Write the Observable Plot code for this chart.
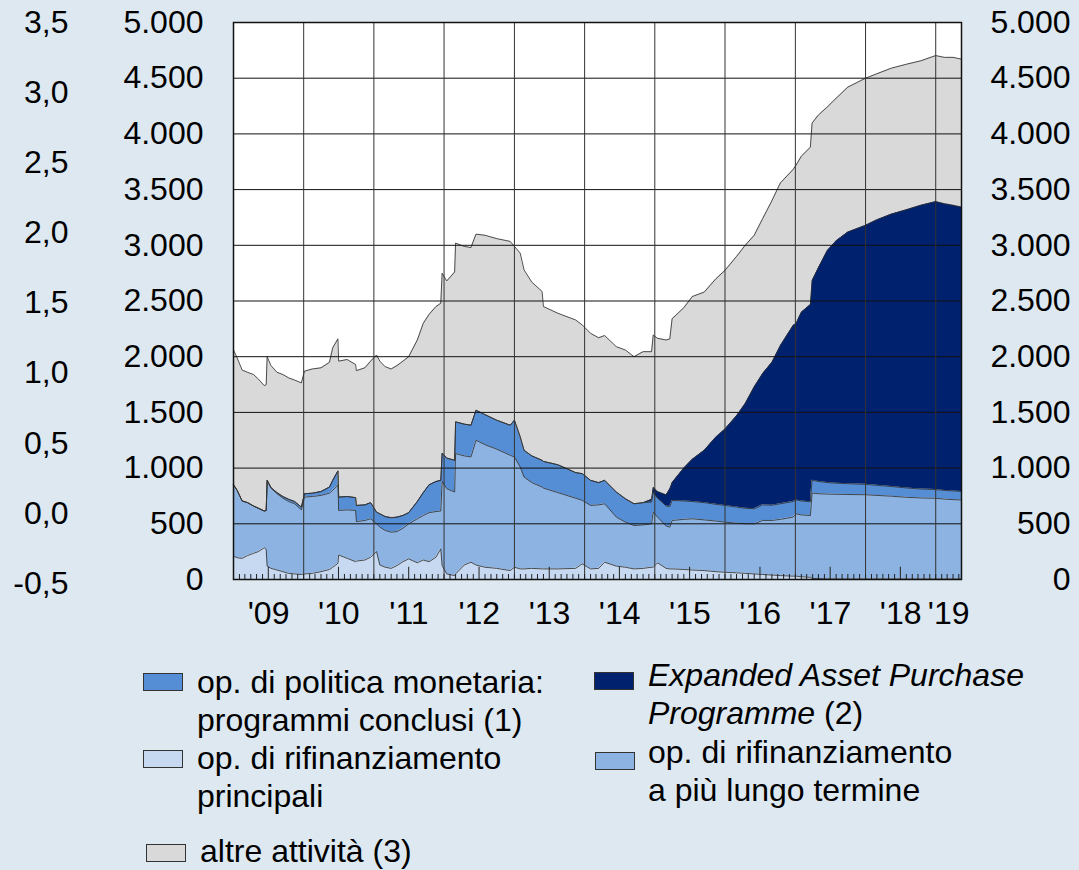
<!DOCTYPE html>
<html>
<head>
<meta charset="utf-8">
<script src="https://cdn.jsdelivr.net/npm/d3@7"></script>
<script src="https://cdn.jsdelivr.net/npm/@observablehq/plot@0.6"></script>
<style>
  html, body { margin: 0; padding: 0; background: #dde8f1; }
  #wrap { position: relative; width: 1079px; height: 870px; overflow: hidden; background: #dde8f1;
          font-family: "Liberation Sans", Arial, Helvetica, sans-serif; color: #000; }
  #chart { position: absolute; left: 0; top: 0; }
  .sw { position: absolute; width: 38px; height: 16px; border: 1px solid #333; box-sizing: content-box; }
  .lg { position: absolute; font-size: 32px; line-height: 38px; white-space: nowrap; }
</style>
</head>
<body>
<div id="wrap">
  <div id="chart"></div>
</div>
<script>
// ---- data (billions of euro) ----
const dates = [
  "2009-01-01","2009-01-20","2009-02-15","2009-03-15","2009-04-15","2009-05-10","2009-06-10","2009-06-20","2009-06-25",
  "2009-07-15","2009-08-15","2009-09-15","2009-10-15","2009-11-15","2009-12-20",
  "2010-01-05","2010-02-15","2010-04-01","2010-05-15","2010-06-01","2010-06-28","2010-07-02","2010-08-15","2010-09-28",
  "2010-10-02","2010-11-15","2010-12-15",
  "2011-01-15","2011-02-01","2011-03-01","2011-04-01","2011-05-01","2011-06-01","2011-07-01","2011-08-15","2011-09-15",
  "2011-10-15","2011-11-20","2011-12-15","2011-12-22",
  "2012-01-15","2012-02-25","2012-03-01","2012-04-15","2012-05-20","2012-06-15","2012-08-01","2012-10-01","2012-12-10",
  "2013-01-01","2013-01-31","2013-02-20","2013-04-01","2013-05-25","2013-06-01","2013-08-15","2013-11-15","2013-12-20",
  "2014-02-01","2014-03-15","2014-04-15","2014-06-15","2014-08-01","2014-09-15","2014-11-01","2014-12-15","2014-12-24",
  "2015-01-15","2015-03-01","2015-03-20","2015-04-01","2015-06-01","2015-07-15","2015-09-15","2015-11-15",
  "2016-01-01","2016-03-01","2016-04-15","2016-06-01","2016-07-15","2016-09-01","2016-10-15","2016-12-20",
  "2017-01-05","2017-02-01","2017-03-20","2017-03-29","2017-05-01","2017-06-15","2017-08-01","2017-10-01",
  "2018-01-01","2018-03-01","2018-05-15","2018-08-01","2018-10-15",
  "2019-01-01","2019-02-15","2019-04-01","2019-05-15"
];
// op. di rifinanziamento principali
const mro = [
  210,195,190,215,235,250,285,270,120,
  100,85,70,55,50,45,
  50,55,70,90,110,145,220,190,160,
  165,175,200,
  250,130,110,100,125,160,185,150,175,
  160,200,275,125,
  50,35,50,130,155,130,110,100,80,
  110,95,95,100,95,95,95,100,140,
  95,100,155,120,110,95,100,110,110,
  150,100,95,95,90,85,80,70,
  65,60,55,50,45,40,35,30,
  30,25,20,10,8,6,5,5,
  5,5,5,5,5,
  5,5,5,5
];
// op. di rifinanziamento a più lungo termine
const ltro = [
  640,605,515,475,425,390,330,350,770,
  720,685,660,645,630,580,
  690,690,685,685,690,705,400,435,460,
  355,355,345,
  250,340,330,325,305,300,315,395,400,
  440,410,340,755,
  765,750,1080,980,945,1120,1100,1070,1035,
  990,915,825,770,735,725,685,630,570,
  570,570,525,440,405,390,390,390,495,
  410,380,375,435,450,460,455,455,
  450,445,445,450,485,490,505,530,
  560,555,554,766,762,761,760,758,
  756,750,743,733,727,
  724,717,712,709
];
// op. di politica monetaria: programmi conclusi
const completed = [
  0,0,0,0,0,0,0,0,0,
  5,10,15,20,20,25,
  30,30,35,55,90,125,120,120,115,
  145,140,145,
  105,120,125,130,130,115,100,155,205,
  250,270,275,255,
  275,285,285,285,285,270,270,260,270,
  330,270,240,240,240,240,250,230,240,
  225,200,210,225,210,195,200,195,175,
  170,180,185,180,165,155,155,150,
  150,145,140,135,140,137,140,140,
  124,125,124,115,110,103,100,97,
  93,90,87,84,80,
  78,78,78,77
];
// Expanded Asset Purchase Programme
const app = [
  0,0,0,0,0,0,0,0,0,
  0,0,0,0,0,0,
  0,0,0,0,0,0,0,0,0,
  0,0,0,
  0,0,0,0,0,0,0,0,0,
  0,0,0,0,
  0,0,0,0,0,0,0,0,0,
  0,0,0,0,0,0,0,0,0,
  0,0,0,0,0,0,0,25,50,
  60,100,160,160,295,380,470,605,
  685,820,940,1095,1180,1283,1420,1580,
  1586,1695,1770,1794,1920,2080,2175,2260,
  2326,2385,2445,2498,2548,
  2586,2574,2565,2552
];
// altre attività
const other = [
  1210,1190,1175,1170,1180,1160,1125,1130,1110,
  1095,1080,1095,1090,1090,1115,
  1100,1115,1110,1120,1190,1185,1220,1230,1195,
  1210,1230,1270,
  1410,1370,1345,1335,1360,1385,1400,1450,1520,
  1530,1570,1590,1615,
  1590,1690,1605,1595,1595,1580,1610,1630,1650,
  1560,1650,1620,1560,1515,1390,1360,1370,1335,
  1320,1300,1300,1305,1335,1320,1355,1325,1365,
  1375,1390,1345,1470,1440,1460,1420,1420,
  1425,1430,1420,1360,1390,1450,1460,1400,
  1420,1400,1412,1412,1370,1290,1280,1300,
  1320,1310,1310,1305,1296,
  1310,1313,1327,1328
];

const seriesNames = ["mro", "ltro", "completed", "app", "other"];
const seriesColors = ["#c6d9f1", "#8db3e2", "#558ed5", "#00216e", "#d9d9d9"];
const seriesValues = [mro, ltro, completed, app, other];

const yTicks = [0, 500, 1000, 1500, 2000, 2500, 3000, 3500, 4000, 4500, 5000];
const outerTicks = [-0.5, 0, 0.5, 1, 1.5, 2, 2.5, 3, 3.5];
const yearLabels = ["'09","'10","'11","'12","'13","'14","'15","'16","'17","'18","'19"];
const xStart = new Date("2009-01-01");
const xEnd = new Date("2019-05-15");

// ---- build table ----
const long = [];
seriesNames.forEach((s, i) => {
  dates.forEach((d, j) => long.push({date: new Date(d), series: s, value: seriesValues[i][j]}));
});

const it = d3.formatLocale({decimal: ",", thousands: ".", grouping: [3], currency: ["", ""], minus: "-"});
const fmtInt = it.format(",");
const fmt1 = it.format(".1f");

// secondary (outer-left) axis: 3,5 at top of frame
const outerToMain = v => 5000 - (3.5 - v) * 1259;

const yearStarts = d3.range(2010, 2020).map(y => new Date(Date.UTC(y, 0, 1)));
const labelDates = yearLabels.map((_, i) => {
  const a = new Date(Date.UTC(2009 + i, 0, 1));
  const b = new Date(Math.min(Date.UTC(2010 + i, 0, 1), +xEnd));
  return new Date((+a + +b) / 2);
});
const months = d3.utcMonth.range(new Date("2009-02-01"), xEnd);
const minorMonths = months.filter(d => d.getUTCMonth() !== 6);
const midYears = months.filter(d => d.getUTCMonth() === 6);

const font = '"Liberation Sans", Arial, Helvetica, sans-serif';

const chart = Plot.plot({
  width: 1079,
  height: 640,
  marginLeft: 233,
  marginRight: 118,
  marginTop: 22,
  marginBottom: 61,
  style: {background: "transparent", fontFamily: font, fontSize: "32px", color: "#000", overflow: "visible"},
  x: {type: "utc", domain: [xStart, xEnd], label: null},
  y: {domain: [0, 5000], label: null},
  color: {domain: seriesNames, range: seriesColors},
  marks: [
    Plot.frame({fill: "white"}),
    Plot.areaY(long, {x: "date", y: "value", z: "series", fill: "series", order: seriesNames, curve: "linear"}),
    Plot.lineY(long, Plot.stackY2({x: "date", y: "value", z: "series", order: seriesNames,
      stroke: "#333", strokeWidth: 1, strokeOpacity: 0.85, curve: "linear"})),
    Plot.gridY({ticks: yTicks, stroke: "#111", strokeOpacity: 1, strokeWidth: 1}),
    Plot.gridX({ticks: yearStarts, stroke: "#333", strokeOpacity: 1, strokeWidth: 1}),
    Plot.ruleX(minorMonths, {x: d => d, y1: 0, y2: 45, stroke: "#222", strokeWidth: 1}),
    Plot.ruleX(midYears, {x: d => d, y1: 0, y2: 110, stroke: "#222", strokeWidth: 1}),
    Plot.frame({stroke: "#111", strokeWidth: 1.5}),
    Plot.axisY({anchor: "left", label: null, ticks: yTicks, tickSize: 0, tickPadding: 30, tickFormat: fmtInt}),
    Plot.axisY({anchor: "right", label: null, ticks: yTicks, tickSize: 0, tickPadding: 109, textAnchor: "end", tickFormat: fmtInt}),
    Plot.axisY({anchor: "left", label: null, ticks: outerTicks.map(outerToMain), tickSize: 0, tickPadding: 165,
      tickFormat: v => fmt1(Math.round((3.5 - (5000 - v) / 1259) * 10) / 10)}),
    Plot.axisX({anchor: "bottom", label: null, ticks: labelDates, tickSize: 0, tickPadding: 22,
      tickFormat: (d, i) => yearLabels[i]})
  ]
});
document.getElementById("chart").appendChild(chart);

// ---- legend ----
const wrap = document.getElementById("wrap");
const legendItems = [
  {sw: 2, x: 143, y: 673, tx: 197, ty: 663, html: "op. di politica monetaria:<br>programmi conclusi (1)"},
  {sw: 0, x: 143, y: 750, tx: 197, ty: 739, html: "op. di rifinanziamento<br>principali"},
  {sw: 4, x: 146, y: 844, tx: 200, ty: 832, html: "altre attività (3)"},
  {sw: 3, x: 594, y: 672, tx: 648, ty: 656, html: "<i>Expanded Asset Purchase<br>Programme</i> (2)"},
  {sw: 1, x: 595, y: 752, tx: 648, ty: 733, html: "op. di rifinanziamento<br>a più lungo termine"}
];
legendItems.forEach(it => {
  const s = document.createElement("div");
  s.className = "sw";
  s.style.left = it.x + "px"; s.style.top = it.y + "px";
  s.style.background = seriesColors[it.sw];
  wrap.appendChild(s);
  const t = document.createElement("div");
  t.className = "lg";
  t.style.left = it.tx + "px"; t.style.top = it.ty + "px";
  t.innerHTML = it.html;
  wrap.appendChild(t);
});
</script>
</body>
</html>
